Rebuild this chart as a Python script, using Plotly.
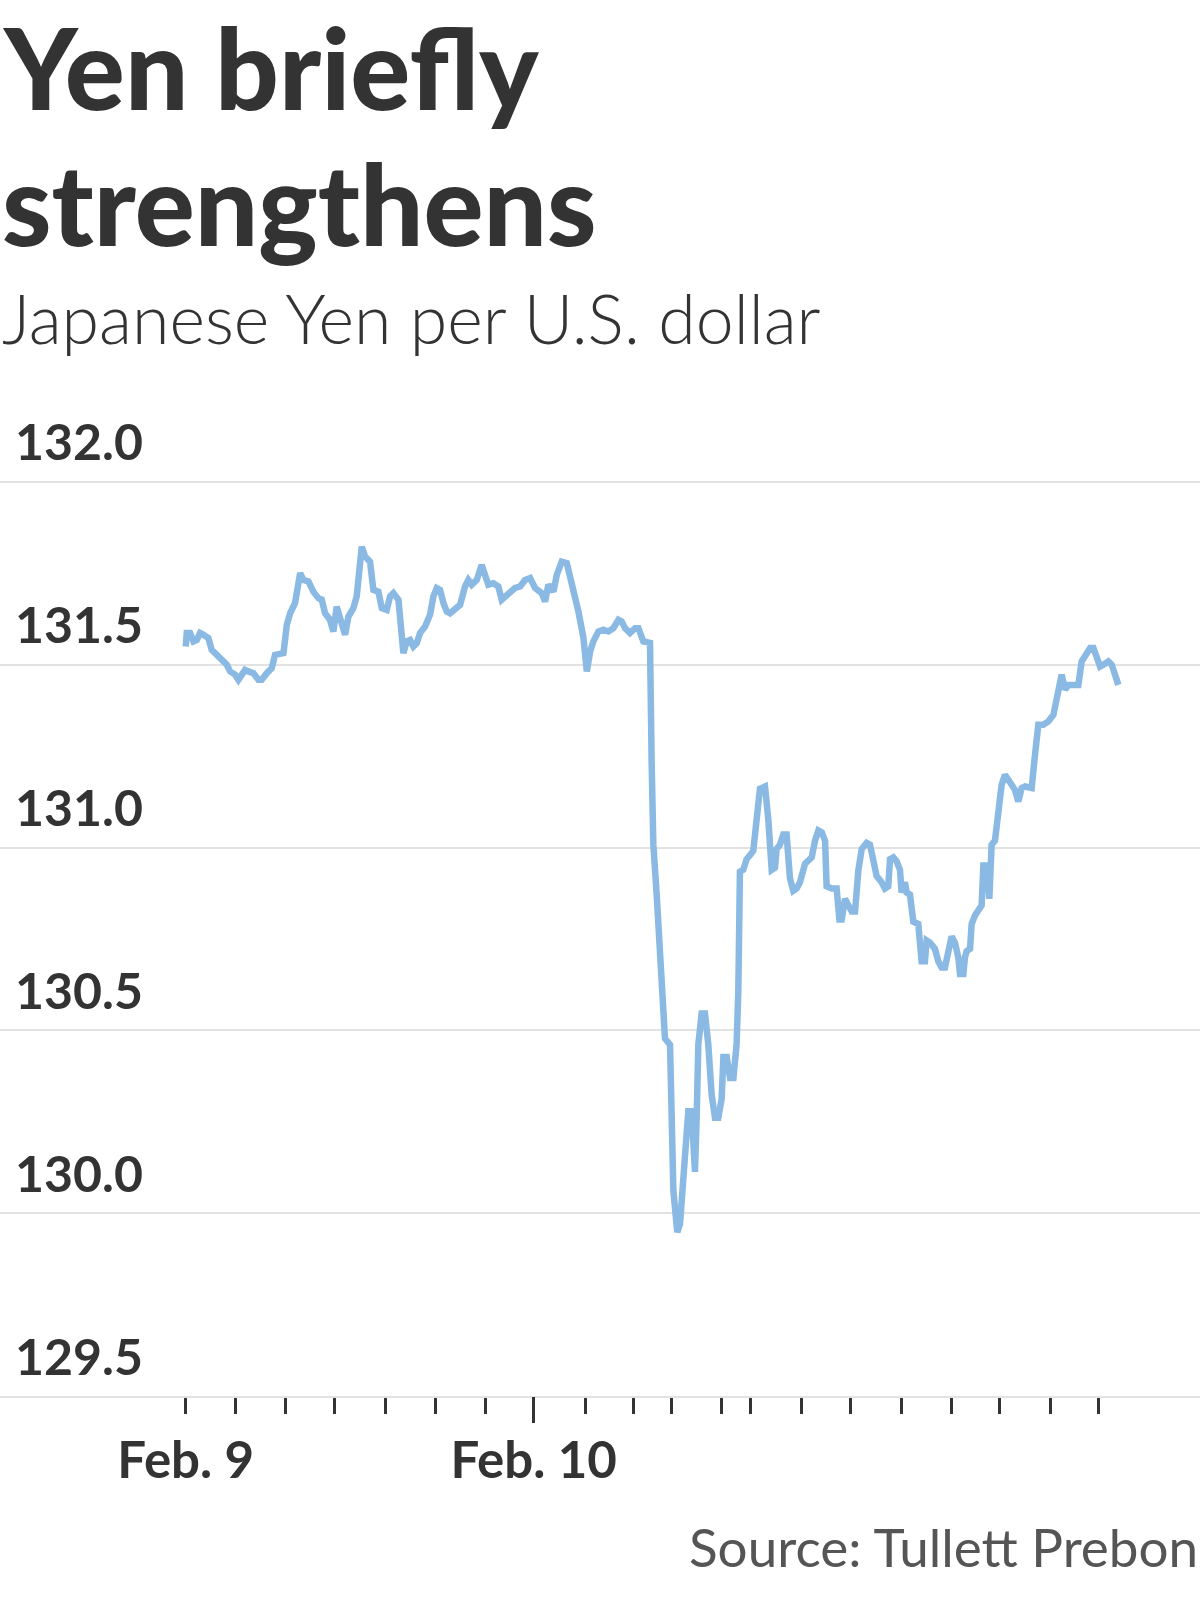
import plotly.graph_objects as go

# ---- data (hours since start of Feb. 9, yen per U.S. dollar) ----
HOURS = [
    0.00, 0.07, 0.30, 0.53, 0.76, 0.99, 1.22, 1.56, 1.79, 2.14, 2.48, 2.83, 3.06, 3.40, 3.63, 3.86,
    4.09, 4.32, 4.67, 5.01, 5.24, 5.59, 5.93, 6.16, 6.51, 6.74, 6.97, 7.20, 7.54, 7.89, 8.11, 8.46,
    8.80, 9.15, 9.38, 9.61, 9.95, 10.18, 10.41, 10.64, 10.99, 11.22, 11.56, 11.79, 12.14, 12.37,
    12.71, 12.94, 13.29, 13.52, 13.86, 14.09, 14.32, 14.67, 15.01, 15.24, 15.47, 15.70, 15.93,
    16.16, 16.51, 16.85, 17.08, 17.31, 17.54, 17.77, 18.00, 18.23, 18.57, 18.92, 19.26, 19.49,
    19.72, 20.07, 20.41, 20.64, 20.87, 21.22, 21.56, 21.79, 22.02, 22.37, 22.71, 23.06, 23.40,
    23.75, 24.09, 24.55, 24.78, 25.01, 25.36, 25.59, 25.93, 26.28, 26.62, 27.08, 27.43, 27.66,
    27.89, 28.11, 28.46, 28.80, 29.15, 29.49, 29.84, 30.07, 30.30, 30.64, 30.99, 31.22, 31.56,
    31.91, 32.02, 32.13, 32.25, 32.48, 32.71, 32.89, 33.05, 33.40, 33.51, 33.63, 33.90, 34.09,
    34.32, 34.66, 34.89, 35.12, 35.24, 35.35, 35.58, 35.81, 36.04, 36.27, 36.50, 36.73, 36.96,
    37.08, 37.31, 37.54, 37.77, 37.99, 38.11, 38.22, 38.45, 38.68, 38.91, 39.14, 39.37, 39.60,
    39.95, 40.18, 40.41, 40.64, 40.75, 40.98, 41.21, 41.44, 41.67, 41.90, 42.13, 42.36, 42.71,
    42.94, 43.17, 43.40, 43.63, 43.86, 44.09, 44.20, 44.55, 44.89, 45.08, 45.24, 45.47, 45.70,
    45.93, 46.16, 46.39, 46.62, 46.96, 47.19, 47.42, 47.65, 47.99, 48.22, 48.45, 48.57, 48.80,
    49.03, 49.26, 49.37, 49.60, 49.72, 49.95, 50.06, 50.18, 50.52, 50.75, 50.98, 51.10, 51.33,
    51.67, 51.90, 52.13, 52.36, 52.59, 52.82, 53.05, 53.28, 53.40, 53.63, 53.74, 53.86, 54.09,
    54.20, 54.43, 54.66, 54.89, 55.01, 55.24, 55.42, 55.58, 55.81, 56.04, 56.27, 56.50, 56.85,
    57.19, 57.42, 57.65, 57.88, 58.34, 58.57, 58.80, 59.15, 59.49, 59.84, 60.07, 60.41, 60.64,
    60.87, 61.22, 61.56, 61.79, 62.02, 62.37, 62.60, 62.83, 63.06, 63.29, 63.63, 63.86, 64.09,
    64.32,
]
YEN = [
    131.550, 131.587, 131.587, 131.564, 131.568, 131.587, 131.582, 131.573, 131.541, 131.527,
    131.518, 131.500, 131.482, 131.473, 131.459, 131.473, 131.486, 131.482, 131.477, 131.459,
    131.459, 131.477, 131.491, 131.527, 131.532, 131.532, 131.609, 131.641, 131.669, 131.751,
    131.732, 131.728, 131.700, 131.682, 131.678, 131.641, 131.623, 131.591, 131.659, 131.623,
    131.582, 131.632, 131.655, 131.687, 131.823, 131.796, 131.782, 131.705, 131.700, 131.655,
    131.650, 131.687, 131.696, 131.678, 131.532, 131.564, 131.568, 131.550, 131.559, 131.587,
    131.605, 131.637, 131.687, 131.710, 131.705, 131.669, 131.646, 131.641, 131.655, 131.664,
    131.714, 131.732, 131.719, 131.732, 131.773, 131.737, 131.719, 131.723, 131.714, 131.678,
    131.687, 131.700, 131.710, 131.714, 131.732, 131.737, 131.710, 131.696, 131.673, 131.719,
    131.700, 131.746, 131.782, 131.778, 131.728, 131.646, 131.573, 131.482, 131.536, 131.564,
    131.591, 131.596, 131.591, 131.600, 131.623, 131.618, 131.600, 131.587, 131.600, 131.600,
    131.564, 131.559, 131.560, 131.235, 131.008, 130.871, 130.723, 130.575, 130.478, 130.461,
    130.267, 130.062, 129.948, 129.971, 130.096, 130.279, 130.279, 130.113, 130.267, 130.461,
    130.546, 130.546, 130.461, 130.324, 130.261, 130.261, 130.313, 130.427, 130.427, 130.370,
    130.370, 130.461, 130.609, 130.934, 130.939, 130.968, 130.979, 130.991, 131.076, 131.161,
    131.167, 131.076, 130.939, 130.945, 130.996, 131.008, 131.036, 131.036, 130.916, 130.882,
    130.888, 130.905, 130.956, 130.968, 130.973, 131.019, 131.047, 131.042, 131.019, 130.894,
    130.888, 130.888, 130.803, 130.803, 130.860, 130.842, 130.825, 130.825, 130.939, 130.996,
    131.013, 131.008, 130.973, 130.922, 130.905, 130.888, 130.894, 130.968, 130.973, 130.962,
    130.939, 130.877, 130.905, 130.877, 130.871, 130.837, 130.797, 130.791, 130.689, 130.689,
    130.746, 130.740, 130.723, 130.689, 130.672, 130.672, 130.711, 130.757, 130.740, 130.700,
    130.654, 130.654, 130.700, 130.717, 130.723, 130.791, 130.814, 130.831, 130.842, 130.951,
    130.951, 130.860, 131.008, 131.019, 131.090, 131.172, 131.199, 131.181, 131.158, 131.126,
    131.163, 131.167, 131.163, 131.254, 131.336, 131.336, 131.345, 131.363, 131.409, 131.473,
    131.432, 131.445, 131.445, 131.445, 131.509, 131.527, 131.546, 131.546, 131.514, 131.495,
    131.500, 131.509, 131.500, 131.468, 131.445,
]

Y_TICKS = [129.5, 130.0, 130.5, 131.0, 131.5, 132.0]
Y_TICK_LABELS = ["129.5", "130.0", "130.5", "131.0", "131.5", "132.0"]
MINOR_TICKS = [0.0, 3.45, 6.90, 10.28, 13.79, 17.24, 20.69, 27.59, 30.90, 33.50,
               36.94, 38.92, 42.50, 45.88, 49.39, 52.78, 56.09, 59.61, 62.92]
DAY_TICKS = [0.0, 24.0]
DAY_LABELS = ["Feb. 9", "Feb. 10"]
LONG_TICK = [24.0]

TITLE_LINES = ["Yen briefly", "strengthens"]
SUBTITLE = "Japanese Yen per U.S. dollar"
SOURCE = "Source: Tullett Prebon"

INK = "#333333"
LINE = "#8ab9e3"
GRID = "#e2e2e2"
X_RANGE = [-12.81, 69.95]
Y_RANGE = [129.5, 132.03]

W, H = 1200, 1600
M_TOP, M_BOT = 470.5, 204
PLOT_H = H - M_TOP - M_BOT


def page_y(px_from_top):
    """convert a page pixel row into a paper fraction"""
    return (H - M_BOT - px_from_top) / PLOT_H


fig = go.Figure()
fig.add_trace(go.Scatter(x=HOURS, y=YEN, mode="lines",
                         line=dict(color=LINE, width=6.5), hoverinfo="skip"))
# empty trace so that the overlay axis carrying the long Feb. 10 tick is drawn
fig.add_trace(go.Scatter(x=[], y=[], xaxis="x2", mode="lines", hoverinfo="skip"))

fig.update_layout(
    width=W, height=H,
    paper_bgcolor="white", plot_bgcolor="white",
    margin=dict(l=0, r=0, t=M_TOP, b=M_BOT, pad=0),
    showlegend=False,
    font=dict(family="Lato", color=INK),
    xaxis=dict(
        range=X_RANGE, showgrid=False, zeroline=False,
        showline=True, linecolor=GRID, linewidth=2,
        tickmode="array", tickvals=DAY_TICKS, ticktext=DAY_LABELS,
        ticks="", ticklabelstandoff=19,
        tickfont=dict(family="Lato", size=51, color=INK, weight=700),
        minor=dict(tickmode="array", tickvals=MINOR_TICKS, ticks="outside",
                   ticklen=16, tickwidth=2.5, tickcolor=INK, showgrid=False),
    ),
    xaxis2=dict(
        range=X_RANGE, overlaying="x", anchor="y", side="bottom",
        showgrid=False, zeroline=False, showline=False,
        tickmode="array", tickvals=LONG_TICK, ticks="outside",
        ticklen=26, tickwidth=2.5, tickcolor=INK, showticklabels=False,
    ),
    yaxis=dict(
        range=Y_RANGE, showgrid=True, gridcolor=GRID, gridwidth=2,
        zeroline=False, showline=False,
        tickmode="array", tickvals=Y_TICKS, ticktext=Y_TICK_LABELS,
        ticks="", ticklabelposition="inside", ticklabeloverflow="allow",
        ticklabelstandoff=12, ticklabelshift=-39,
        tickfont=dict(family="Lato", size=50, color=INK, weight=700),
    ),
    annotations=[
        dict(text=TITLE_LINES[0], xref="paper", yref="paper", x=0, y=page_y(-4),
             xanchor="left", yanchor="top", showarrow=False, align="left",
             font=dict(family="Lato", size=112, color=INK, weight=900)),
        dict(text=TITLE_LINES[1], xref="paper", yref="paper", x=0, y=page_y(132.5),
             xanchor="left", yanchor="top", showarrow=False, align="left",
             font=dict(family="Lato", size=112, color=INK, weight=900)),
        dict(text=SUBTITLE, xref="paper", yref="paper", x=0, y=page_y(274),
             xanchor="left", yanchor="top", showarrow=False, align="left",
             font=dict(family="Lato", size=68, color=INK, weight=300)),
        dict(text=SOURCE, xref="paper", yref="paper", x=1, y=page_y(1513),
             xanchor="right", yanchor="top", showarrow=False, align="right",
             font=dict(family="Lato", size=53, color="#555555")),
    ],
)

fig.write_html("out.html", config={"displayModeBar": False},
               post_script="document.body.style.margin='0px';document.body.style.overflow='hidden';")
